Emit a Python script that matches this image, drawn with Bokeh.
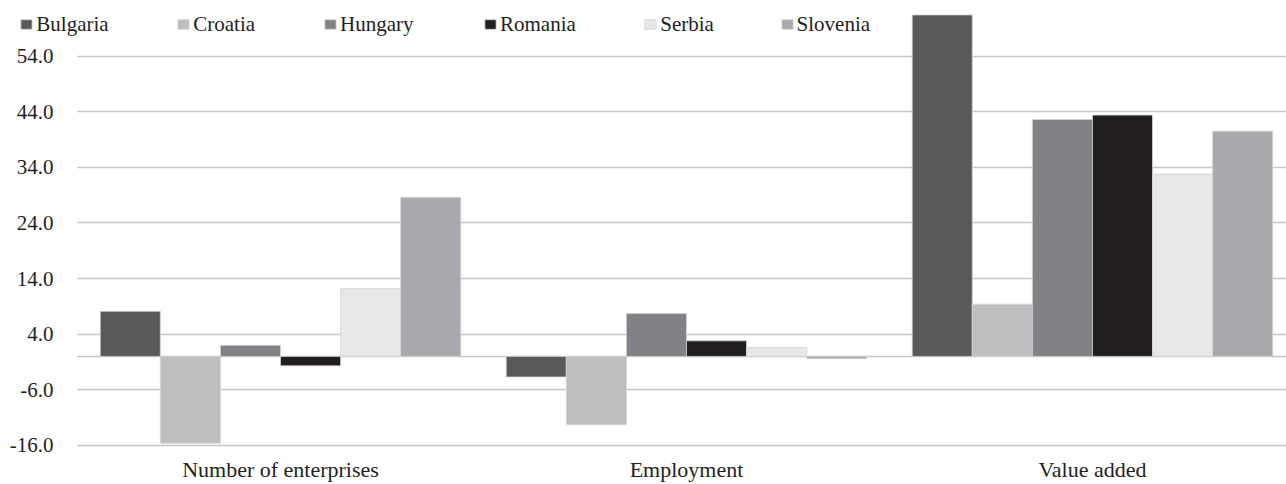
from bokeh.plotting import figure
from bokeh.models import (ColumnDataSource, Range1d, FixedTicker, Legend, LegendItem,
                          LabelSet, BoxAnnotation)
from bokeh.transform import dodge
from bokeh.embed import file_html
from bokeh.resources import INLINE

# Percentage change by indicator and country
indicators = ["Number of enterprises", "Employment", "Value added"]
countries = ["Bulgaria", "Croatia", "Hungary", "Romania", "Serbia", "Slovenia"]

bulgaria = [8.1, -3.7, 61.4]
croatia = [-15.6, -12.3, 9.4]
hungary = [2.0, 7.7, 42.6]
romania = [-1.7, 2.8, 43.4]
serbia = [12.2, 1.6, 32.8]
slovenia = [28.6, -0.4, 40.5]

y_ticks = [-16, -6, 4, 14, 24, 34, 44, 54]

colors = ["#58595b", "#bcbec0", "#808285", "#231f20", "#e6e7e8", "#a7a9ac"]

FONT = "Liberation Serif"
TEXT = "#231f20"
GRID = "#c6c6c6"

series = [bulgaria, croatia, hungary, romania, serbia, slovenia]
data = {"x": list(range(len(indicators)))}
for name, vals in zip(countries, series):
    data[name] = vals
source = ColumnDataSource(data)

# the frame spans the whole canvas; the left strip holds the value labels
p = figure(width=1286, height=484, output_backend="svg", toolbar_location=None,
           x_range=Range1d(-0.6897, 2.478), y_range=Range1d(-18.0, 64),
           y_axis_location=None)
p.min_border_left = 0
p.min_border_right = 0
p.min_border_top = 0
p.min_border_bottom = 28
p.outline_line_color = None
p.background_fill_color = "white"
p.border_fill_color = "white"

bar_w = 0.148
renderers = []
for i, (name, col) in enumerate(zip(countries, colors)):
    offset = (i - (len(countries) - 1) / 2) * bar_w
    r = p.vbar(x=dodge("x", offset), top=name, bottom=0, width=bar_w, source=source,
               fill_color=col, line_color="#d4d4d4", line_width=0.8)
    renderers.append(r)

# x axis with indicator names
p.xaxis.ticker = FixedTicker(ticks=data["x"])
p.xaxis.major_label_overrides = {i: lab for i, lab in enumerate(indicators)}
p.xaxis.axis_line_color = None
p.xaxis.major_tick_line_color = None
p.xaxis.minor_tick_line_color = None
p.xaxis.major_tick_out = 0
p.xaxis.major_tick_in = 0
p.xaxis.minor_tick_out = 0
p.xaxis.major_label_standoff = 0
p.xaxis.major_label_text_font = FONT
p.xaxis.major_label_text_font_size = "22px"
p.xaxis.major_label_text_color = TEXT

# horizontal gridlines, plus the zero baseline
p.xgrid.grid_line_color = None
p.ygrid.ticker = FixedTicker(ticks=y_ticks + [0])
p.ygrid.grid_line_color = GRID
p.ygrid.grid_line_width = 1.6

# blank strip left of the bars, behind the value labels
p.add_layout(BoxAnnotation(right=77, right_units="screen", fill_color="white",
                           fill_alpha=1, line_color=None))

# value labels on the left
tick_src = ColumnDataSource(dict(y=y_ticks, text=[f"{v:.1f}" for v in y_ticks]))
p.add_layout(LabelSet(x=53, x_units="screen", y="y", text="text", source=tick_src,
                      text_align="right", text_baseline="middle", text_font=FONT,
                      text_font_size="21px", text_color=TEXT))

# legend entries along the top
legend_x = [19.3, 176.3, 323, 483, 643.3, 779.6]
for n, r, lx in zip(countries, renderers, legend_x):
    lg = Legend(items=[LegendItem(label=n, renderers=[r])],
                orientation="horizontal", location=(lx, 419.5),
                glyph_width=14, glyph_height=12, label_standoff=3,
                padding=0, margin=0, border_line_color=None, background_fill_alpha=0,
                label_text_font=FONT, label_text_font_size="21px", label_text_color=TEXT,
                label_height=22)
    p.add_layout(lg, "center")

open("out.html", "w").write(file_html(p, INLINE))
